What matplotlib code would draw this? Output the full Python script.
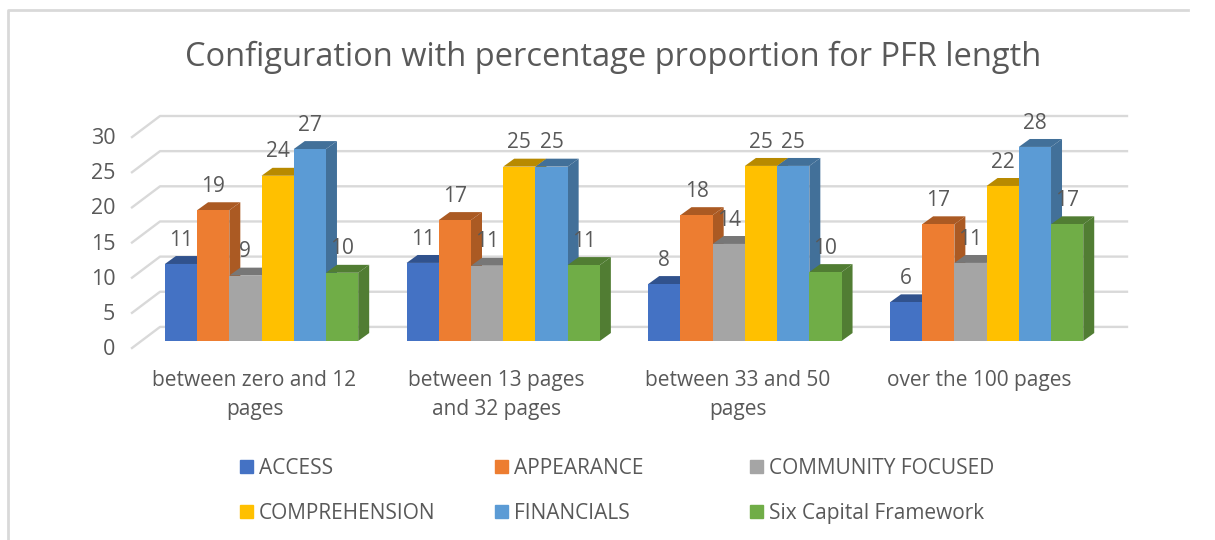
import matplotlib
matplotlib.use("Agg")
import matplotlib.pyplot as plt
from matplotlib.colors import to_rgb
from matplotlib.lines import Line2D
from matplotlib.patches import Polygon
from matplotlib.transforms import ScaledTranslation

plt.rcParams["font.family"] = ["Open Sans", "DejaVu Sans"]

categories = ["between zero and 12\npages", "between 13 pages\nand 32 pages",
              "between 33 and 50\npages", "over the 100 pages"]
series_names = ["ACCESS", "APPEARANCE", "COMMUNITY FOCUSED",
                "COMPREHENSION", "FINANCIALS", "Six Capital Framework"]
access = [10.95, 11.1, 8.1, 5.5]
appearance = [18.6, 17.2, 17.9, 16.6]
community = [9.3, 10.7, 13.8, 11.1]
comprehension = [23.5, 24.8, 24.9, 22.05]
financials = [27.3, 24.8, 24.9, 27.6]
six_capital = [9.7, 10.8, 9.8, 16.6]
series_values = [access, appearance, community, comprehension, financials, six_capital]
colors = ["#4472C4", "#ED7D31", "#A5A5A5", "#FFC000", "#5B9BD5", "#70AD47"]
yticks = [0, 5, 10, 15, 20, 25, 30]

W, H = 1215, 540
TEXT = "#595959"
GRID = "#D9D9D9"

fig = plt.figure(figsize=(W / 100, H / 100), dpi=100)
# axes box in pixels: x 132..1127, y 116..348
ax = fig.add_axes([132 / W, 1 - 348 / H, 995 / W, 232 / H])
ax.set_xlim(-0.536, 3.581)
ax.set_ylim(-1, 32)
for s in ax.spines.values():
    s.set_visible(False)

# fake 3D: back wall grid plus the slanted side wall
back_x, back_dy = -0.42, 2
for v in yticks:
    ax.plot([-0.536, back_x, 3.581], [v - 1, v + back_dy, v + back_dy],
            color=GRID, lw=1.7, zorder=1, clip_on=False)

bar_w = 0.1333
dep_x, dep_y = 0.0455, 1.13
z = 2
for g in range(len(categories)):
    for i, vals in enumerate(series_values):
        v = vals[g]
        x = g + (i - 2.5) * bar_w
        left, right = x - bar_w / 2, x + bar_w / 2
        dark = tuple(c * 0.72 for c in to_rgb(colors[i]))
        ax.add_patch(Polygon([(right, 0), (right + dep_x, dep_y), (right + dep_x, v + dep_y), (right, v)],
                             color=dark, lw=0, zorder=z))
        ax.add_patch(Polygon([(left, v), (left + dep_x, v + dep_y), (right + dep_x, v + dep_y), (right, v)],
                             color=dark, lw=0, zorder=z))
        ax.bar(x, v, width=bar_w, color=colors[i], zorder=z + 0.5)
        ax.text(x, v + 3.4, f"{v:.0f}", ha="center", va="center", fontsize=15, color=TEXT, zorder=50)
        z += 1

ax.set_xticks(range(len(categories)), categories)
ax.set_yticks(yticks, [str(v) for v in yticks])
ax.tick_params(axis="both", length=0, colors=TEXT)
ax.tick_params(axis="x", labelsize=15, pad=16)
ax.tick_params(axis="y", labelsize=15.5, pad=12)
for lab in ax.get_xticklabels():
    lab.set_linespacing(1.47)
    lab.set_transform(lab.get_transform() + ScaledTranslation(-7 / 100, 0, fig.dpi_scale_trans))
for lab in ax.get_yticklabels():
    lab.set_transform(lab.get_transform() + ScaledTranslation(0, -6 / 100, fig.dpi_scale_trans))

fig.text(613 / W, 1 - 57 / H, "Configuration with percentage proportion for PFR length",
         ha="center", va="center", fontsize=23.5, color=TEXT)

# legend: one per column so the columns keep equal spacing
col_x = [240, 495, 750]
for c, px in enumerate(col_x):
    idx = [c, c + 3]
    handles = [plt.Rectangle((0, 0), 1, 1, color=colors[k]) for k in idx]
    fig.legend(handles, [series_names[k] for k in idx], loc="upper left",
               bbox_to_anchor=(px / W, 1 - 458 / H), frameon=False, fontsize=15,
               labelcolor=TEXT, handlelength=0.62, handleheight=0.62, handletextpad=0.29,
               labelspacing=1.14, borderaxespad=0, borderpad=0)

# chart outline, only top and left show in the crop
fig.add_artist(Line2D([8 / W, 8 / W, 1188 / W], [0, 1 - 10 / H, 1 - 10 / H], color="#D9D9D9", lw=2))

fig.savefig("out.png", dpi=100)
